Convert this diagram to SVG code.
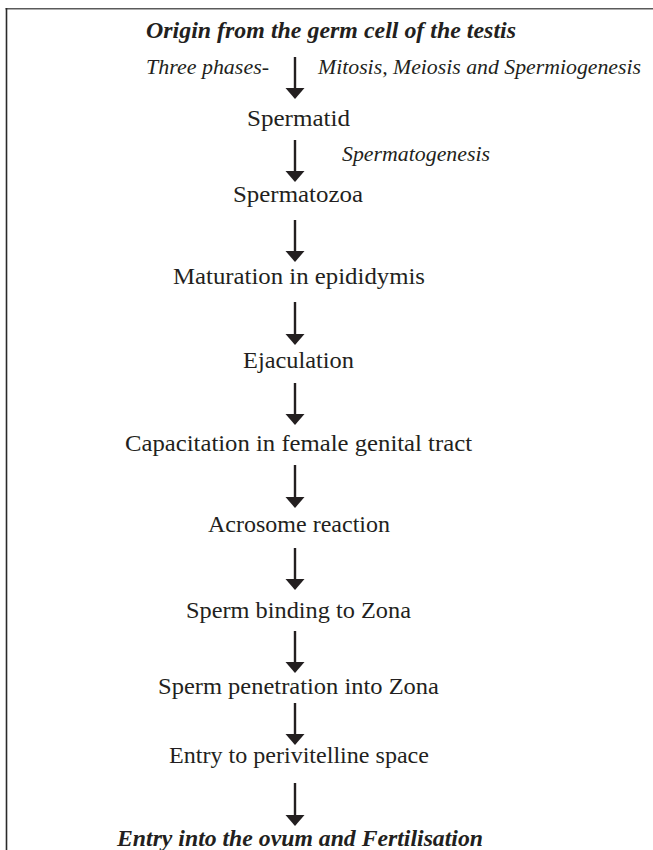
<svg xmlns="http://www.w3.org/2000/svg" xmlns:xlink="http://www.w3.org/1999/xlink" width="653" height="850" viewBox="0 0 653 850">
<style>
  text { font-family: "Liberation Serif", "Times New Roman", serif; fill: #231f20; }
  .n { font-size: 23px; }
  .i { font-size: 22px; font-style: italic; }
  .bi { font-size: 22.5px; font-style: italic; font-weight: bold; }
  .shaft { stroke: #231f20; stroke-width: 2.4; fill: none; }
  .head { fill: #231f20; }
</style>
<defs>
  <path id="ah" d="M-9.5,-11 L9.5,-11 L0,0 Z"/>
</defs>
<rect width="653" height="850" fill="#ffffff"/>
<g id="frame">
  <line x1="5.5" y1="8.7" x2="653" y2="8.7" stroke="#5a5a5a" stroke-width="1.6"/>
  <line x1="6.5" y1="8" x2="6.5" y2="850" stroke="#2a2a2a" stroke-width="1.6"/>
</g>
<g id="connectors">
  <path class="shaft" d="M295,57 V89 M295,140 V172 M295,220 V252 M295,302 V335 M295,383 V415 M295,465 V498 M295,548 V580 M295,631 V663 M295,703 V735 M295,783 V816"/>
  <use href="#ah" xlink:href="#ah" class="head" x="295" y="99"/>
  <use href="#ah" xlink:href="#ah" class="head" x="295" y="182"/>
  <use href="#ah" xlink:href="#ah" class="head" x="295" y="262"/>
  <use href="#ah" xlink:href="#ah" class="head" x="295" y="345"/>
  <use href="#ah" xlink:href="#ah" class="head" x="295" y="425"/>
  <use href="#ah" xlink:href="#ah" class="head" x="295" y="508"/>
  <use href="#ah" xlink:href="#ah" class="head" x="295" y="590"/>
  <use href="#ah" xlink:href="#ah" class="head" x="295" y="673"/>
  <use href="#ah" xlink:href="#ah" class="head" x="295" y="745"/>
  <use href="#ah" xlink:href="#ah" class="head" x="295" y="826"/>
  <text class="i" x="146" y="74" textLength="123" lengthAdjust="spacingAndGlyphs">Three phases-</text>
  <text class="i" x="318" y="74" textLength="323" lengthAdjust="spacingAndGlyphs">Mitosis, Meiosis and Spermiogenesis</text>
  <text class="i" x="342" y="161" textLength="148" lengthAdjust="spacingAndGlyphs">Spermatogenesis</text>
</g>
<g id="origin"><text class="bi" x="146" y="38" textLength="370" lengthAdjust="spacingAndGlyphs">Origin from the germ cell of the testis</text></g>
<g id="spermatid"><text class="n" x="247" y="126" textLength="103" lengthAdjust="spacingAndGlyphs">Spermatid</text></g>
<g id="spermatozoa"><text class="n" x="233" y="202" textLength="130" lengthAdjust="spacingAndGlyphs">Spermatozoa</text></g>
<g id="maturation"><text class="n" x="173" y="284" textLength="252" lengthAdjust="spacingAndGlyphs">Maturation in epididymis</text></g>
<g id="ejaculation"><text class="n" x="243" y="368" textLength="111" lengthAdjust="spacingAndGlyphs">Ejaculation</text></g>
<g id="capacitation"><text class="n" x="125" y="451" textLength="347" lengthAdjust="spacingAndGlyphs">Capacitation in female genital tract</text></g>
<g id="acrosome"><text class="n" x="208" y="532" textLength="182" lengthAdjust="spacingAndGlyphs">Acrosome reaction</text></g>
<g id="binding"><text class="n" x="186" y="618" textLength="225" lengthAdjust="spacingAndGlyphs">Sperm binding to Zona</text></g>
<g id="penetration"><text class="n" x="158" y="694" textLength="281" lengthAdjust="spacingAndGlyphs">Sperm penetration into Zona</text></g>
<g id="perivitelline"><text class="n" x="169" y="763" textLength="260" lengthAdjust="spacingAndGlyphs">Entry to perivitelline space</text></g>
<g id="fertilisation"><text class="bi" x="117" y="846" textLength="366" lengthAdjust="spacingAndGlyphs">Entry into the ovum and Fertilisation</text></g>
</svg>
